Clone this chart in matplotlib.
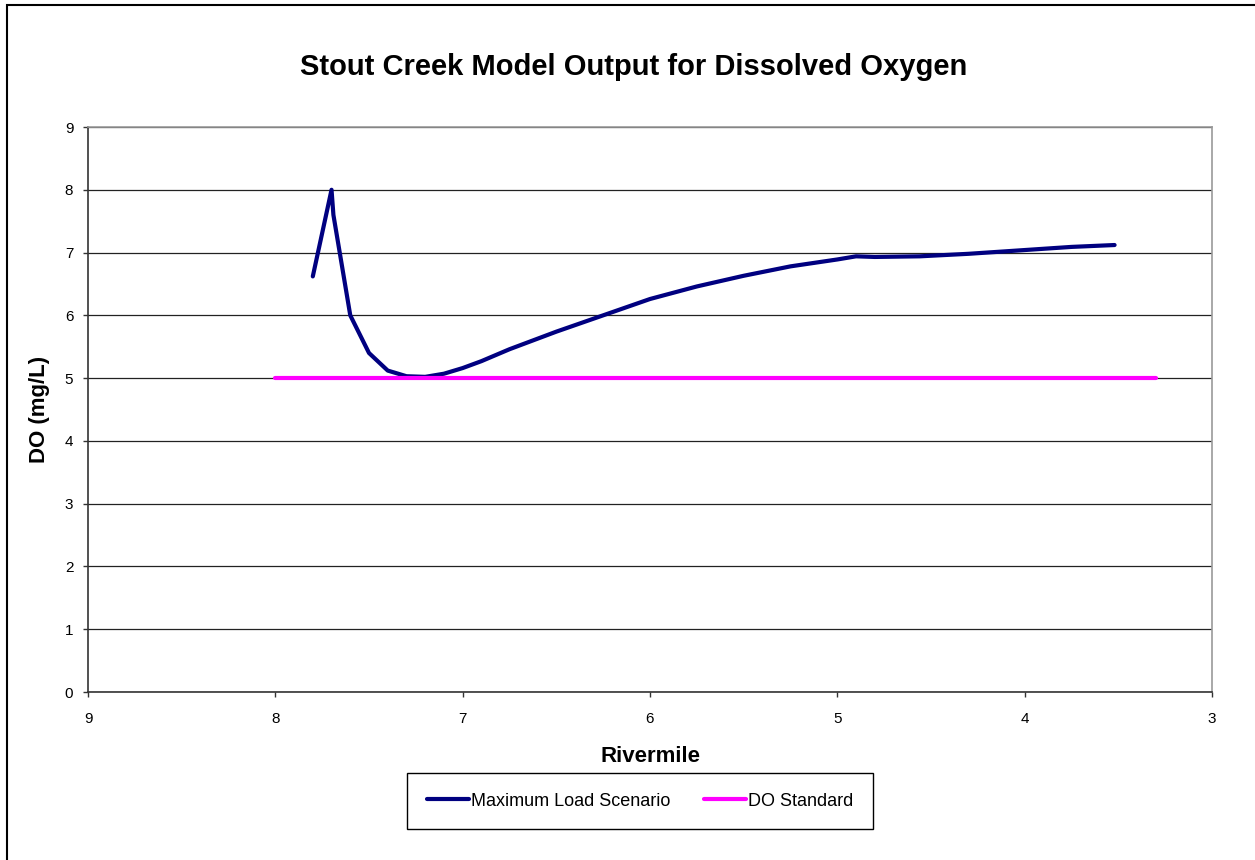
import matplotlib
matplotlib.use('Agg')
import matplotlib.pyplot as plt
from matplotlib.patches import Rectangle

plt.rcParams['font.family'] = ['Liberation Sans', 'DejaVu Sans']

# Model output
rivermile = [7.8, 7.7, 7.69, 7.6, 7.5, 7.4, 7.3, 7.2, 7.1, 7.0, 6.9, 6.75,
             6.5, 6.25, 6.0, 5.75, 5.5, 5.25, 5.0, 4.9, 4.8, 4.56, 4.3,
             4.0, 3.75, 3.52]
do_max_load = [6.62, 8.0, 7.6, 6.0, 5.4, 5.12, 5.03, 5.02, 5.07, 5.16, 5.27,
               5.46, 5.74, 6.0, 6.26, 6.46, 6.63, 6.78, 6.89, 6.94, 6.93,
               6.94, 6.98, 7.04, 7.09, 7.12]
std_miles = [8.0, 3.3]
do_standard = [5.0, 5.0]

NAVY = '#000080'
MAGENTA = '#FF00FF'

fig = plt.figure(figsize=(12.55, 8.6), dpi=100)
fig.patch.set_facecolor('white')
# outer chart border (right/bottom edges fall off the image)
fig.patches.append(Rectangle((7 / 1255, -0.1), 1.2, 1 - 5 / 860 + 0.1,
                             transform=fig.transFigure, fill=False,
                             edgecolor='black', linewidth=1.5))

ax = fig.add_axes([88 / 1255, 1 - 692 / 860, (1212 - 88) / 1255, (692 - 127) / 860])

ax.plot(rivermile, do_max_load, color=NAVY, linewidth=3,
        solid_capstyle='round', solid_joinstyle='round',
        label='Maximum Load Scenario')
ax.plot(std_miles, do_standard, color=MAGENTA, linewidth=3,
        solid_capstyle='round', label='DO Standard')

ax.set_xlim(9, 3)
ax.set_ylim(0, 9)
ax.set_xticks(range(9, 2, -1))
ax.set_yticks(range(0, 10))
ax.tick_params(axis='both', labelsize=11, length=3.6, width=1, color='#333333')
ax.tick_params(axis='x', pad=11)
ax.tick_params(axis='y', pad=7)
ax.grid(axis='y', color='#222222', linewidth=0.9)
ax.set_axisbelow(True)

for side in ('top', 'right'):
    ax.spines[side].set_color('#999999')
    ax.spines[side].set_linewidth(1.2)
for side in ('left', 'bottom'):
    ax.spines[side].set_color('#333333')
    ax.spines[side].set_linewidth(1.2)

ax.set_xlabel('Rivermile', fontsize=16, fontweight='bold', va='center')
ax.set_ylabel('DO (mg/L)', fontsize=16, fontweight='bold', va='center')
ax.xaxis.set_label_coords(0.5, (692 - 757) / 565)
ax.yaxis.set_label_coords((39 - 88) / 1124, 0.5)

fig.text(634 / 1255, 1 - 67 / 860, 'Stout Creek Model Output for Dissolved Oxygen',
         ha='center', va='center', fontsize=21, fontweight='bold')

leg = ax.legend(loc='center', bbox_to_anchor=(640 / 1255, 1 - 801 / 860),
                bbox_transform=fig.transFigure, ncol=2, fontsize=13,
                frameon=True, fancybox=False, edgecolor='black', framealpha=1,
                handlelength=2.3, handletextpad=0.1, columnspacing=1.9,
                borderpad=1.1)
leg.get_frame().set_linewidth(1.0)

fig.savefig('out.png', dpi=100, facecolor='white')
